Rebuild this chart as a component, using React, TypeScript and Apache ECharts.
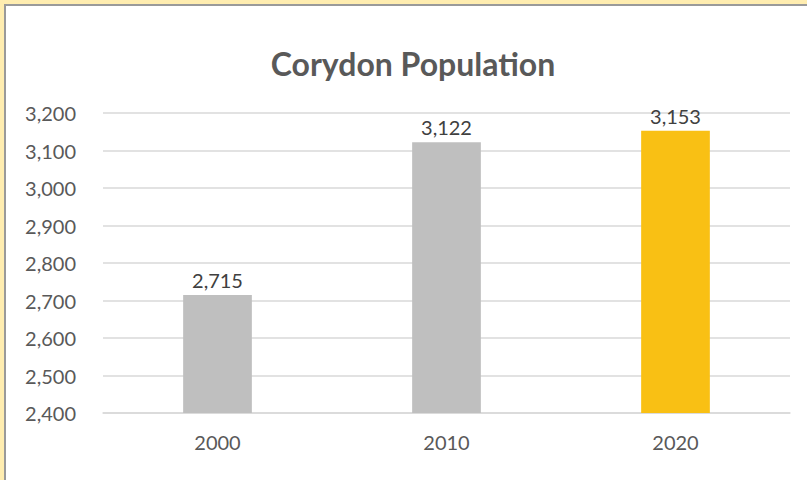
import React, { useEffect, useRef } from "react";
import * as echarts from "echarts";

const categories = ["2000", "2010", "2020"];
const populations = [2715, 3122, 3153];
const barColors = ["#BFBFBF", "#BFBFBF", "#F9C014"];
const titleText = "Corydon Population";

export default function App() {
  const ref = useRef<HTMLDivElement>(null);
  useEffect(() => {
    if (!ref.current) return;
    const chart = echarts.init(ref.current, null, { renderer: "svg" });
    const fmt = (v: number) => v.toLocaleString("en-US");
    chart.setOption({
      animation: false,
      backgroundColor: "transparent",
      title: {
        text: titleText,
        left: 408,
        textAlign: "center",
        top: 42,
        textStyle: {
          fontFamily: "Lato",
          fontWeight: "bold",
          fontSize: 32,
          color: "#595959",
        },
      },
      grid: { left: 103, right: 17, top: 113, bottom: 67 },
      xAxis: {
        type: "category",
        data: categories,
        axisLine: { lineStyle: { color: "#D9D9D9", width: 1.5 } },
        axisTick: { show: false },
        axisLabel: {
          margin: 19,
          fontFamily: "Lato",
          fontSize: 20,
          color: "#595959",
        },
      },
      yAxis: {
        type: "value",
        min: 2400,
        max: 3200,
        interval: 100,
        axisLine: { show: false },
        axisTick: { show: false },
        splitLine: { lineStyle: { color: "#D9D9D9", width: 1.5 } },
        axisLabel: {
          margin: 27,
          fontFamily: "Lato",
          fontSize: 20,
          color: "#595959",
          formatter: (v: number) => fmt(v),
        },
      },
      series: [
        {
          type: "bar",
          barWidth: "30%",
          data: populations.map((v, i) => ({
            value: v,
            itemStyle: { color: barColors[i] },
          })),
          label: {
            show: true,
            position: "top",
            distance: 5,
            fontFamily: "Lato",
            fontSize: 20,
            color: "#404040",
            formatter: (p: any) => fmt(p.value),
          },
        },
      ],
    });
    return () => chart.dispose();
  }, []);

  return (
    <div
      style={{
        position: "fixed",
        left: 0,
        top: 0,
        width: 807,
        height: 480,
        background: "#FFEDB0",
        overflow: "hidden",
      }}
    >
      <div
        style={{
          position: "absolute",
          left: 4,
          top: 4,
          width: 820,
          height: 500,
          background: "#FFFFFF",
          borderLeft: "2px solid #9A9A9A",
          borderTop: "2px solid #9A9A9A",
        }}
      />
      <div
        ref={ref}
        style={{ position: "absolute", left: 0, top: 0, width: 807, height: 480 }}
      />
    </div>
  );
}
